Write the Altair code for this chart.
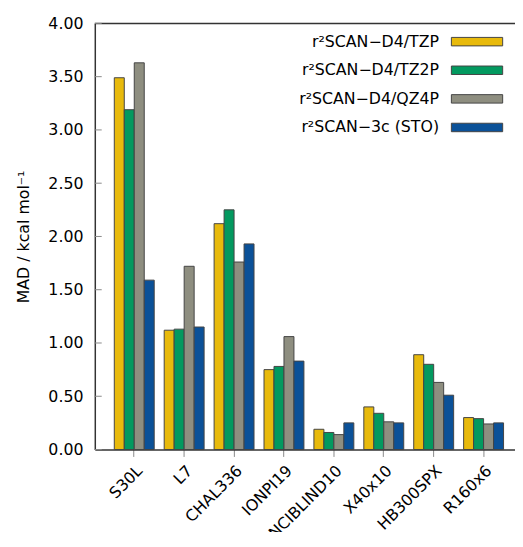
import altair as alt
import pandas as pd

categories = ["S30L", "L7", "CHAL336", "IONPI19", "NCIBLIND10", "X40x10", "HB300SPX", "R160x6"]
methods = ["r²SCAN−D4/TZP", "r²SCAN−D4/TZ2P", "r²SCAN−D4/QZ4P", "r²SCAN−3c (STO)"]
colors = ["#E8BA0C", "#03995F", "#8E8E80", "#0B5198"]

tzp   = [3.49, 1.12, 2.12, 0.75, 0.19, 0.40, 0.89, 0.30]
tz2p  = [3.19, 1.13, 2.25, 0.78, 0.16, 0.34, 0.80, 0.29]
qz4p  = [3.63, 1.72, 1.76, 1.06, 0.14, 0.26, 0.63, 0.24]
sto3c = [1.59, 1.15, 1.93, 0.83, 0.25, 0.25, 0.51, 0.25]

y_ticks = [0, 0.5, 1.0, 1.5, 2.0, 2.5, 3.0, 3.5, 4.0]

rows = []
for m, vals in zip(methods, [tzp, tz2p, qz4p, sto3c]):
    for c, v in zip(categories, vals):
        rows.append({"set": c, "method": m, "mad": v})
df = pd.DataFrame(rows)

FONT = "DejaVu Sans, Verdana, sans-serif"

bars = alt.Chart(df).mark_bar(stroke="#444444", strokeWidth=1).encode(
    x=alt.X(
        "set:N", sort=categories,
        scale=alt.Scale(paddingInner=0.2, paddingOuter=0.31, align=0.63),
        axis=alt.Axis(
            title=None, labelAngle=-45, labelAlign="right", labelBaseline="top",
            labelFontSize=16, labelFont=FONT, labelColor="black", labelPadding=6,
            tickSize=7, tickColor="#888888", tickWidth=1,
            domainColor="#333333", domainWidth=1.5,
        ),
    ),
    xOffset=alt.XOffset("method:N", sort=methods, scale=alt.Scale(paddingInner=0, paddingOuter=0)),
    y=alt.Y(
        "mad:Q",
        scale=alt.Scale(domain=[0, 4], nice=False),
        axis=alt.Axis(
            values=y_ticks, format=".2f", grid=False,
            title="MAD / kcal mol⁻¹", titleFontSize=16, titleFont=FONT,
            titleFontWeight="normal", titleColor="black", titlePadding=17,
            labelFontSize=16, labelFont=FONT, labelColor="black", labelPadding=12,
            ticks=True, tickSize=0,
            domainColor="#333333", domainWidth=1.5,
        ),
    ),
    color=alt.Color(
        "method:N", sort=methods,
        scale=alt.Scale(domain=methods, range=colors),
        legend=alt.Legend(
            title=None, orient="none", legendX=374, legendY=5,
            symbolType="M-2,-0.33H2V0.33H-2Z", symbolSize=676,
            symbolStrokeColor="#444444", symbolStrokeWidth=1, symbolOpacity=1,
            labelAlign="right", labelOffset={"expr": "-52"}, labelFontSize=16, labelFont=FONT,
            labelColor="black", rowPadding=7, padding=0, labelLimit=300,
        ),
    ),
)

top = alt.Chart(pd.DataFrame({"v": [4.0]})).mark_rule(color="#333333", strokeWidth=1.5).encode(
    y="v:Q"
)

ticks_in = alt.Chart(pd.DataFrame({"v": y_ticks})).mark_rule(color="#888888", strokeWidth=1).encode(
    x=alt.value(0), x2=alt.value(7), y="v:Q"
)

chart = alt.layer(bars, top, ticks_in).properties(
    width=426, height=432,
    padding={"left": 88, "top": 12, "right": 0, "bottom": 80},
    autosize=alt.AutoSizeParams(type="none"),
).configure_view(stroke=None)

chart.save("out.html", embed_options={"renderer": "svg", "actions": False})
